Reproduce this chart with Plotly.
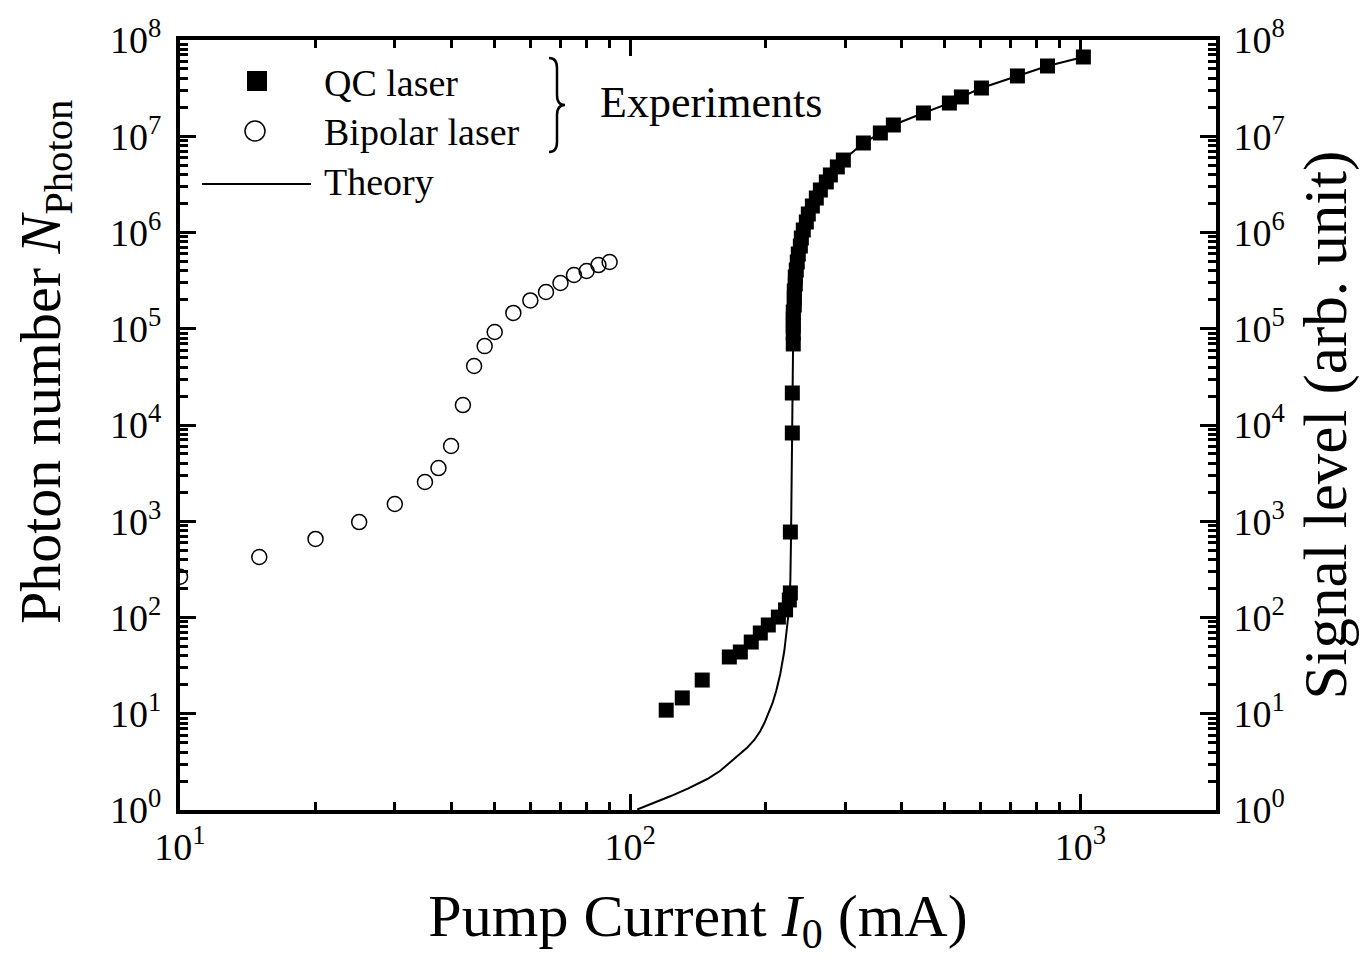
import plotly.graph_objects as go

# ---------------- data ----------------
bipolar_current = [10, 15, 20, 25, 30, 35, 37.5, 40, 42.5, 45, 47.5, 50,
                   55, 60, 65, 70, 75, 80, 85, 90]
bipolar_photons = [265, 425, 655, 980, 1510, 2560, 3570, 6050, 16100, 41000,
                   66000, 92500, 146000, 197000, 241000, 299000, 362000,
                   398000, 459000, 494000]

qc_current = [120.2, 130.5, 144.5, 166.0, 175.6, 185.7, 194.5, 202.6, 213.3,
              221.3, 225.6, 226.8, 226.8, 229.1, 229.1, 230.2,
              230.2, 230.2, 230.2, 230.2, 231.4, 231.4, 231.4, 232.6, 232.6,
              233.8, 235.0, 236.2, 238.7, 239.9, 242.3, 246.1, 248.6, 253.8,
              259.0, 264.4, 272.6, 278.3, 288.4, 297.4, 329.5, 359.4, 384.1,
              447.9, 511.5, 543.9, 602.6, 724.4, 844.9, 1015]
qc_photons = [10.9, 14.6, 22.4, 38.9, 43.8, 55.6, 69.0, 83.6, 101, 120, 152,
              180, 773, 8260, 21500, 69500,
              90300, 106900, 126300, 149300, 176500, 208600, 246600, 291500,
              344800, 407600, 494000, 598000, 724000, 877000, 1.062e6,
              1.286e6, 1.557e6, 1.885e6, 2.282e6, 2.764e6, 3.35e6, 3.96e6,
              4.80e6, 5.66e6, 8.51e6, 1.081e7, 1.309e7, 1.745e7, 2.214e7,
              2.56e7, 3.17e7, 4.23e7, 5.37e7, 6.66e7]

theory_current = [103.65, 113.6, 122.7, 134.6, 148.3, 158.5, 169.4, 175.6,
                  182.0, 188.6, 194.5, 198.6, 202.7, 206.9, 211.1, 215.4,
                  219.9, 222.9, 224.8, 225.9, 226.8,
                  227.6, 228.3, 229.3, 230.2, 232.6, 235.0, 238.7, 242.3,
                  248.6, 259.0, 272.6, 288.4, 297.4, 329.5, 359.4, 384.1,
                  447.9, 511.5, 543.9, 602.6, 724.4, 844.9, 1015]
theory_photons = [1.012, 1.196, 1.388, 1.681, 2.099, 2.555, 3.307, 3.817,
                  4.461, 5.337, 6.62, 8.01, 9.94, 12.78, 17.44, 25.88,
                  44.87, 72.4, 111.4, 159.4, 245.2,
                  700, 3000, 30000, 1.0e5, 2.9e5, 4.9e5, 7.2e5, 1.06e6,
                  1.56e6, 2.28e6, 3.35e6, 4.8e6, 5.66e6, 8.5e6, 1.08e7, 1.31e7,
                  1.745e7, 2.21e7, 2.56e7, 3.17e7, 4.23e7, 5.37e7, 6.66e7]

x_tickvals = [10, 100, 1000]
x_ticktext = ["10<sup>1</sup>", "10<sup>2</sup>", "10<sup>3</sup>"]
y_tickvals = [1, 10, 100, 1e3, 1e4, 1e5, 1e6, 1e7, 1e8]
y_ticktext = ["10<sup>%d</sup>" % i for i in range(9)]

legend_labels = ["QC laser", "Bipolar laser", "Theory"]
group_label = "Experiments"
x_title = "Pump Current <i>I</i><sub>0</sub> (mA)"
y_title = "Photon number <i>N</i><sub>Photon</sub>"
y2_title = "Signal level (arb. unit)"

# ---------------- figure ----------------
W, H = 1366, 962
ML, MR, MT, MB = 180, 150, 40, 152
PW, PH = W - ML - MR, H - MT - MB
FONT = "Liberation Serif"


def px(xp):
    return (xp - ML) / PW


def py(yp):
    return (H - MB - yp) / PH


x_minor = [m * 10 ** e for e in range(1, 4) for m in range(2, 10) if m * 10 ** e <= 2000]
y_minor = [m * 10 ** e for e in range(0, 8) for m in range(2, 10)]

fig = go.Figure()
fig.add_trace(go.Scatter(x=theory_current, y=theory_photons, mode="lines",
                         line=dict(color="black", width=2),
                         name=legend_labels[2], showlegend=False))
fig.add_trace(go.Scatter(x=bipolar_current, y=bipolar_photons, mode="markers",
                         marker=dict(symbol="circle-open", size=15, color="black",
                                     line=dict(width=1.5, color="black")),
                         name=legend_labels[1], showlegend=False))
fig.add_trace(go.Scatter(x=qc_current, y=qc_photons, mode="markers",
                         marker=dict(symbol="square", size=15, color="black"),
                         name=legend_labels[0], showlegend=False))
# invisible trace to carry the right axis
fig.add_trace(go.Scatter(x=qc_current[-1:], y=qc_photons[-1:], yaxis="y2",
                         mode="markers", marker=dict(opacity=0),
                         hoverinfo="skip", showlegend=False))

axis_common = dict(
    type="log", showgrid=False, zeroline=False,
    showline=True, linewidth=4, linecolor="black",
    ticks="inside", ticklen=16, tickwidth=3, tickcolor="black",
    tickfont=dict(family=FONT, size=38, color="black"),
)
minor_common = dict(ticks="inside", ticklen=8, tickwidth=3, tickcolor="black",
                    tickmode="array")

fig.update_layout(
    width=W, height=H,
    margin=dict(l=ML, r=MR, t=MT, b=MB),
    paper_bgcolor="white", plot_bgcolor="white",
    font=dict(family=FONT, color="black"),
    showlegend=False,
    xaxis=dict(**axis_common, range=[1, 3.30103], mirror="ticks",
               tickmode="array", tickvals=x_tickvals, ticktext=x_ticktext,
               minor=dict(**minor_common, tickvals=x_minor),
               title=dict(text=x_title,
                          font=dict(family=FONT, size=60, color="black"),
                          standoff=28)),
    yaxis=dict(**axis_common, range=[0, 8], ticklabelstandoff=7,
               tickmode="array", tickvals=y_tickvals, ticktext=y_ticktext,
               minor=dict(**minor_common, tickvals=y_minor)),
    yaxis2=dict(**axis_common, range=[0, 8], overlaying="y", side="right",
                ticklabelstandoff=6,
                tickmode="array", tickvals=y_tickvals, ticktext=y_ticktext,
                minor=dict(**minor_common, tickvals=y_minor),
                title=dict(text=y2_title,
                           font=dict(family=FONT, size=61, color="black"),
                           standoff=20)),
)

# ---------------- hand-placed legend ----------------
shapes = [
    dict(type="rect", xref="paper", yref="paper",
         x0=px(247), x1=px(267), y0=py(91), y1=py(71),
         fillcolor="black", line=dict(width=0)),
    dict(type="circle", xref="paper", yref="paper",
         x0=px(245), x1=px(265), y0=py(141), y1=py(121),
         fillcolor="white", line=dict(width=1.5, color="black")),
    dict(type="line", xref="paper", yref="paper",
         x0=px(202), x1=px(311), y0=py(184), y1=py(184),
         line=dict(width=2, color="black")),
]
brace_pts = [("M", 549, 58), ("Q", 557, 58), ("", 557, 68), ("L", 557, 95),
             ("Q", 557, 105), ("", 565, 105), ("Q", 557, 105), ("", 557, 115),
             ("L", 557, 142), ("Q", 557, 152), ("", 549, 152)]
path = " ".join("%s %.5f,%.5f" % (c, px(a), py(b)) for c, a, b in brace_pts)
shapes.append(dict(type="path", xref="paper", yref="paper", path=path,
                   line=dict(width=2.5, color="black")))

annotations = [
    dict(text=legend_labels[0], x=px(322), y=py(83)),
    dict(text=legend_labels[1], x=px(322), y=py(132)),
    dict(text=legend_labels[2], x=px(322), y=py(182)),
]
for a in annotations:
    a.update(xref="paper", yref="paper", xanchor="left", yanchor="middle",
             showarrow=False, font=dict(family=FONT, size=38, color="black"))
annotations.append(dict(text=group_label, x=px(598), y=py(103), xref="paper",
                        yref="paper", xanchor="left", yanchor="middle",
                        showarrow=False,
                        font=dict(family=FONT, size=44, color="black")))
# left axis title (placed to match the reference, off-centre along the axis)
annotations.append(dict(text=y_title, x=px(44), y=py(362), xref="paper",
                        yref="paper", xanchor="center", yanchor="middle",
                        textangle=-90, showarrow=False,
                        font=dict(family=FONT, size=58, color="black")))

fig.update_layout(shapes=shapes, annotations=annotations)

fig.write_html("out.html")
